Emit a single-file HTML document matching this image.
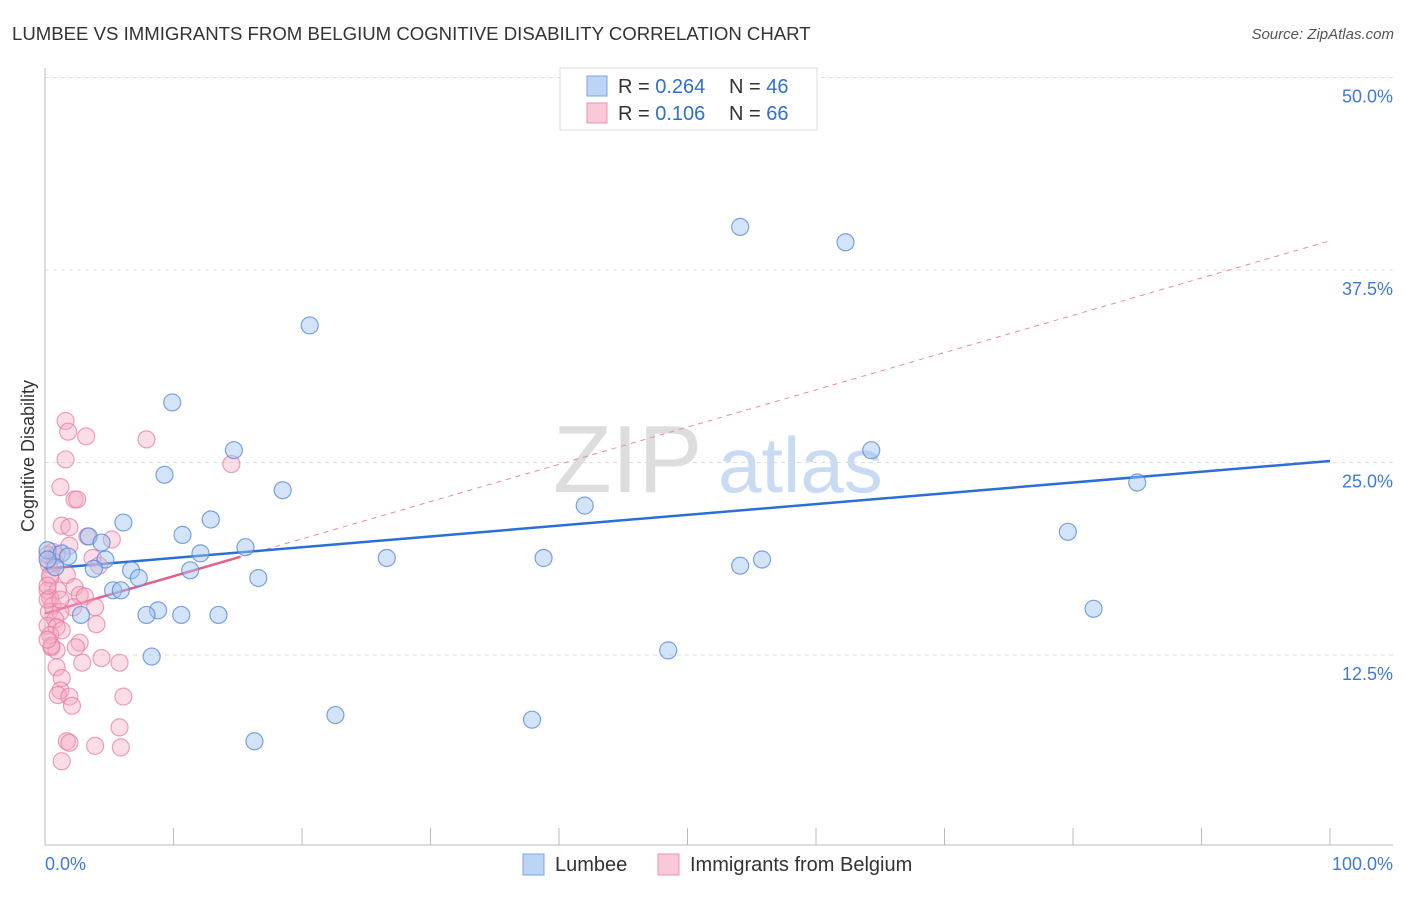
<!DOCTYPE html>
<html><head><meta charset="utf-8"><style>
body{margin:0;background:#fff;font-family:"Liberation Sans",sans-serif;}
svg text{font-family:"Liberation Sans",sans-serif;}
</style></head><body>
<svg id="chart" width="1406" height="892" xmlns="http://www.w3.org/2000/svg">
<text x="12" y="40" font-size="18.6" fill="#333">LUMBEE VS IMMIGRANTS FROM BELGIUM COGNITIVE DISABILITY CORRELATION CHART</text>
<text x="1394" y="39" font-size="15" fill="#555" font-style="italic" text-anchor="end">Source: ZipAtlas.com</text>
<g>
<text x="553" y="492" font-size="96" fill="#ddd" font-family="Liberation Serif">ZIP</text>
<text x="718" y="492" font-size="78" fill="#c9dbf3">atlas</text>
</g>
<g id="grid"></g><g id="axes"></g><g id="trend"></g><g id="points"></g>
<g>
<rect x="560" y="68" width="257" height="62" fill="#fff" stroke="#ddd"/>
<rect x="587" y="76" width="20" height="20" fill="#bcd5f5" stroke="#7aa6e4"/>
<rect x="587" y="103" width="20" height="20" fill="#f9c9d8" stroke="#ee92b0"/>
<text x="618" y="93" font-size="20" fill="#333">R = <tspan fill="#2f6fd0">0.264</tspan></text>
<text x="729" y="93" font-size="20" fill="#333">N = <tspan fill="#2f6fd0">46</tspan></text>
<text x="618" y="120" font-size="20" fill="#333">R = <tspan fill="#2f6fd0"> 0.106</tspan></text>
<text x="729" y="120" font-size="20" fill="#333">N = <tspan fill="#2f6fd0">66</tspan></text>
</g>
<g>
<rect x="523" y="854" width="21" height="21" fill="#bcd5f5" stroke="#7aa6e4"/>
<text x="555" y="871" font-size="20" fill="#333">Lumbee</text>
<rect x="658" y="854" width="21" height="21" fill="#f9c9d8" stroke="#ee92b0"/>
<text x="690" y="871" font-size="20" fill="#333">Immigrants from Belgium</text>
</g>
<text transform="translate(34,456) rotate(-90)" font-size="18" fill="#333" text-anchor="middle">Cognitive Disability</text>
</svg>
<script>
const blueX=[54.1,62.3,20.6,9.9,14.7,64.3,9.3,18.5,85.0,42.0,6.1,12.9,10.7,79.6,3.4,4.4,0.2,1.3,1.8,4.7,12.1,15.6,26.6,38.8,55.8,54.1,0.8,3.8,6.7,11.3,7.3,16.6,5.3,5.9,8.8,7.9,10.6,13.5,2.8,81.6,8.3,48.5,22.6,37.9,16.3,0.2];
const blueY=[40.3,39.3,33.9,28.9,25.8,25.8,24.2,23.2,23.7,22.2,21.1,21.3,20.3,20.5,20.2,19.8,19.3,19.1,18.9,18.7,19.1,19.5,18.8,18.8,18.7,18.3,18.2,18.1,18.0,18.0,17.5,17.5,16.7,16.7,15.4,15.1,15.1,15.1,15.1,15.5,12.4,12.8,8.6,8.3,6.9,18.7];
const pinkX=[1.6,1.8,3.2,7.9,1.6,14.5,1.2,2.3,2.5,1.3,1.9,3.3,0.6,3.7,0.8,1.7,0.4,0.2,1.0,2.3,2.7,3.1,0.4,0.6,2.2,3.9,0.3,1.2,0.8,0.2,0.9,4.0,0.4,1.3,2.7,0.5,2.4,0.9,2.9,4.4,5.8,0.9,1.3,1.2,1.0,1.9,6.1,2.1,5.8,1.7,1.9,3.9,5.9,1.3,0.3,0.4,0.5,0.2,0.2,0.2,0.9,0.2,5.2,1.9,4.2,1.2];
const pinkY=[27.7,27.0,26.7,26.5,25.2,24.9,23.4,22.6,22.6,20.9,20.8,20.2,19.2,18.8,18.5,17.7,17.5,16.7,16.7,16.9,16.4,16.3,16.2,15.7,15.6,15.6,15.3,15.3,14.8,14.4,14.3,14.5,13.8,14.1,13.3,13.0,13.0,12.8,12.0,12.3,12.0,11.7,11.0,10.2,9.9,9.8,9.8,9.2,7.8,6.9,6.8,6.6,6.5,5.6,18.4,17.7,13.1,13.5,16.1,17.0,19.0,19.0,20.0,19.6,18.3,16.1];
const yTicks=[12.5,25.0,37.5,50.0];
const yTickLabels=["12.5%","25.0%","37.5%","50.0%"];
const xTicks=[0,10,20,30,40,50,60,70,80,90,100];
const blueTrend=[18.1,25.1];
const pinkTrend=[15.2,39.4];
const pinkSolidEnd=15.2;

const NS="http://www.w3.org/2000/svg";
const X=v=>45+v*12.85;
const Y=v=>847.5-v*15.4;
function mk(tag,attrs,parent){const e=document.createElementNS(NS,tag);for(const k in attrs)e.setAttribute(k,attrs[k]);document.getElementById(parent).appendChild(e);return e;}
yTicks.forEach((t,i)=>{
 const l=mk('line',{x1:45,x2:1393,y1:Y(t),y2:Y(t),stroke:'#ddd','stroke-dasharray':'4,4'},'grid');
 
 
 const tx=mk('text',{x:1393,y:Y(t)+25,'font-size':18,fill:'#3f7ad6','text-anchor':'end'},'grid');
 tx.textContent=yTickLabels[i];
 
 
});
mk('line',{x1:45,x2:45,y1:68,y2:845,stroke:'#bbb'},'axes');
const xa=mk('line',{x1:45,x2:1393,y1:845,y2:845,stroke:'#bbb'},'axes');


xTicks.forEach(t=>{if(t>0){const tk=mk('line',{x1:X(t),x2:X(t),y1:828,y2:845,stroke:'#bbb'},'axes');
 
 }});
const xl0=mk('text',{x:45,y:870,'font-size':18,fill:'#3f7ad6'},'axes');xl0.textContent='0.0%';


const xl1=mk('text',{x:1393,y:870,'font-size':18,fill:'#3f7ad6','text-anchor':'end'},'axes');xl1.textContent='100.0%';


function dot(x,y,fill,stroke,name){const c=mk('circle',{cx:X(x),cy:Y(y),r:8.5,fill:fill,stroke:stroke,'stroke-width':1.2},'points');
 
 }
pinkX.forEach((x,i)=>dot(x,pinkY[i],'rgba(246,170,195,0.4)','rgba(232,120,160,0.7)','belgium-point'));
blueX.forEach((x,i)=>dot(x,blueY[i],'rgba(160,196,240,0.45)','rgba(80,135,215,0.75)','lumbee-point'));
const pd=mk('line',{x1:X(0),y1:Y(pinkTrend[0]),x2:X(100),y2:Y(pinkTrend[1]),stroke:'#e88aa8','stroke-dasharray':'5,5','stroke-width':1},'trend');


const ps=mk('line',{x1:X(0),y1:Y(pinkTrend[0]),x2:X(pinkSolidEnd),y2:Y(pinkTrend[0]+(pinkTrend[1]-pinkTrend[0])*pinkSolidEnd/100),stroke:'#e3608a','stroke-width':2.5},'trend');


const bl=mk('line',{x1:X(0),y1:Y(blueTrend[0]),x2:X(100),y2:Y(blueTrend[1]),stroke:'#2a6fd6','stroke-width':2.5},'trend');


</script>
</body></html>
